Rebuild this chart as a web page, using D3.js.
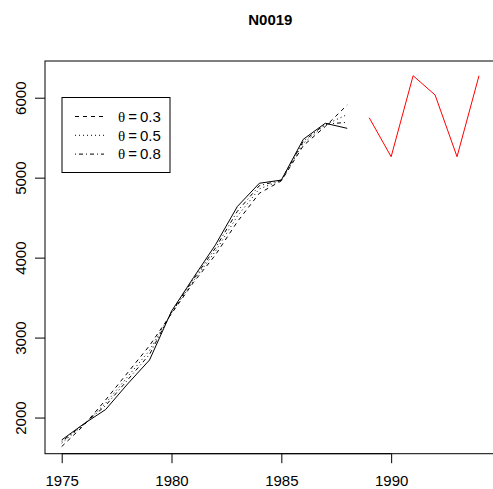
<!DOCTYPE html>
<html>
<head>
<meta charset="utf-8">
<script src="https://cdn.jsdelivr.net/npm/d3@7"></script>
<style>
  html, body { margin: 0; padding: 0; background: #fff; }
  svg { display: block; }
  text { font-family: "Liberation Sans", Arial, Helvetica, sans-serif; fill: #000; }
</style>
</head>
<body>
<script>
// Series N0019: observed history, hold-out values and theta-method fits
const title = "N0019";
const histYears = [1975, 1976, 1977, 1978, 1979, 1980, 1981, 1982, 1983, 1984, 1985, 1986, 1987, 1988];
const histValues = [1720, 1920, 2100, 2420, 2720, 3330, 3750, 4160, 4640, 4930, 4970, 5480, 5680, 5617];
const futureYears = [1989, 1990, 1991, 1992, 1993, 1994];
const futureValues = [5750, 5262, 6275, 6034, 5262, 6275];
const fitTheta03 = [1637, 1900, 2220, 2560, 2900, 3300, 3690, 4034, 4450, 4805, 4960, 5400, 5640, 5909];
const fitTheta05 = [1680, 1910, 2180, 2510, 2840, 3310, 3710, 4080, 4520, 4860, 4965, 5430, 5660, 5790];
const fitTheta08 = [1700, 1915, 2150, 2470, 2790, 3320, 3730, 4120, 4580, 4900, 4970, 5455, 5670, 5692];
const legendLabels = ["0.3", "0.5", "0.8"];
const xTicks = [1975, 1980, 1985, 1990];
const yTicks = [2000, 3000, 4000, 5000, 6000];
const xLimits = [1974.24, 1994.76];
const yLimits = [1548, 6459];

const W = 493, H = 489;
const plot = { left: 45, right: 495.7, top: 61, bottom: 453.7 };

const svg = d3.select("body").append("svg")
  .attr("width", W).attr("height", H);

const x = d3.scaleLinear().domain(xLimits).range([plot.left, plot.right]);
const y = d3.scaleLinear().domain(yLimits).range([plot.bottom, plot.top]);

// title
svg.append("text")
  .attr("x", (plot.left + plot.right) / 2)
  .attr("y", 25)
  .attr("text-anchor", "middle")
  .attr("font-size", 15)
  .attr("font-weight", "bold")
  .text(title);

// x axis
const xAxis = d3.axisBottom(x).tickValues(xTicks).tickSize(9.5).tickPadding(0).tickFormat(d3.format("d"));
const gx = svg.append("g").attr("transform", `translate(0,${plot.bottom})`).call(xAxis);
gx.select(".domain").remove();
gx.append("line")
  .attr("x1", x(xTicks[0])).attr("x2", x(xTicks[xTicks.length - 1]))
  .attr("stroke", "#000");
gx.selectAll(".tick line").attr("stroke", "#000");
gx.selectAll(".tick text")
  .attr("font-size", 15)
  .attr("font-family", "'Liberation Sans', Arial, sans-serif")
  .attr("fill", "#000")
  .attr("dy", null)
  .attr("y", 32);

// y axis
const yAxis = d3.axisLeft(y).tickValues(yTicks).tickSize(10).tickFormat(d3.format("d"));
const gy = svg.append("g").attr("transform", `translate(${plot.left},0)`).call(yAxis);
gy.select(".domain").remove();
gy.selectAll(".tick line").attr("stroke", "#000");
gy.selectAll(".tick text")
  .attr("font-size", 15)
  .attr("font-family", "'Liberation Sans', Arial, sans-serif")
  .attr("fill", "#000")
  .attr("x", null).attr("dy", null)
  .attr("text-anchor", "middle")
  .attr("transform", "translate(-19.5,0) rotate(-90)");

// plot frame
svg.append("rect")
  .attr("x", plot.left).attr("y", plot.top)
  .attr("width", plot.right - plot.left).attr("height", plot.bottom - plot.top)
  .attr("fill", "none").attr("stroke", "#000").attr("stroke-width", 1);

const line = d3.line().x(d => x(d[0])).y(d => y(d[1]));
const zip = (a, b) => a.map((v, i) => [v, b[i]]);

const fits = [
  { label: legendLabels[0], values: fitTheta03, dash: "4,4" },
  { label: legendLabels[1], values: fitTheta05, dash: "1,3" },
  { label: legendLabels[2], values: fitTheta08, dash: "1,3,4,3" }
];

const g = svg.append("g");
fits.forEach(f => {
  g.append("path")
    .attr("d", line(zip(histYears, f.values)))
    .attr("fill", "none").attr("stroke", "#000").attr("stroke-width", 1)
    .attr("stroke-dasharray", f.dash);
});

g.append("path")
  .attr("d", line(zip(histYears, histValues)))
  .attr("fill", "none").attr("stroke", "#000").attr("stroke-width", 1);

g.append("path")
  .attr("d", line(zip(futureYears, futureValues)))
  .attr("fill", "none").attr("stroke", "#ff0000").attr("stroke-width", 1);

// legend
const lg = svg.append("g");
lg.append("rect")
  .attr("x", 62).attr("y", 97.5).attr("width", 108).attr("height", 75)
  .attr("fill", "#fff").attr("stroke", "#000");
fits.forEach((f, i) => {
  const cy = 116.5 + i * 18.8;
  lg.append("line")
    .attr("x1", 75).attr("x2", 104).attr("y1", cy).attr("y2", cy)
    .attr("stroke", "#000").attr("stroke-dasharray", f.dash);
  const t = lg.append("text")
    .attr("x", 118).attr("y", cy + 5.3)
    .attr("font-size", 15);
  t.append("tspan").attr("font-family", "'Liberation Serif', serif").text("θ");
  t.append("tspan").attr("dx", 3).text("=");
  t.append("tspan").attr("dx", 3).text(f.label);
});
</script>
</body>
</html>
